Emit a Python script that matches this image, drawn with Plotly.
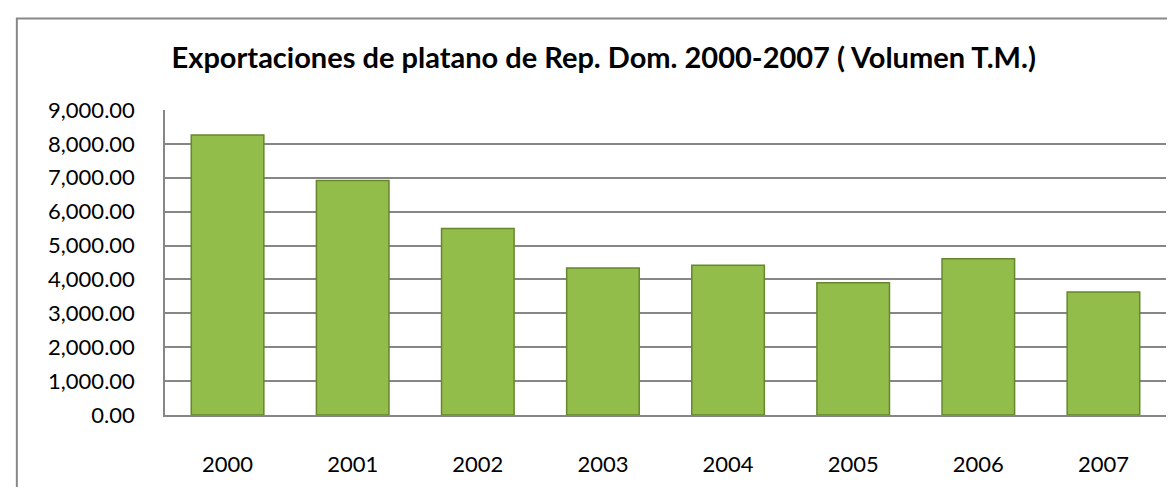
import plotly.graph_objects as go

years = ["2000", "2001", "2002", "2003", "2004", "2005", "2006", "2007"]
volumen = [8260, 6920, 5500, 4340, 4420, 3900, 4610, 3630]

fig = go.Figure(go.Bar(
    x=years, y=volumen,
    marker=dict(color="#92bd4a", line=dict(color="#66872d", width=1.5)),
    hovertemplate="%{x}: %{y:,.2f}<extra></extra>",
))

fig.update_layout(
    width=1175, height=487,
    margin=dict(l=157, r=17, t=102, b=80),
    paper_bgcolor="white", plot_bgcolor="white",
    bargap=0.42,
    showlegend=False,
    font=dict(family="Lato, Open Sans, sans-serif", color="black"),
    title=dict(
        text="<b>Exportaciones de platano de Rep. Dom. 2000-2007 ( Volumen T.M.)</b>",
        x=0.507, xanchor="center", y=0.897, yanchor="middle",
        font=dict(size=29, color="black"),
    ),
    shapes=[dict(type="rect", xref="paper", yref="paper",
                 x0=-0.148, x1=1.05, y0=-0.5, y1=1.3,
                 line=dict(color="#888888", width=2), layer="below")],
)
fig.update_yaxes(
    range=[0, 9000], dtick=1000, tickformat=",.2f",
    showgrid=True, gridcolor="#868686", gridwidth=1.5,
    showline=True, linecolor="#868686", linewidth=1.5,
    ticks="", ticklabelstandoff=24, tickfont=dict(size=22),
    zeroline=False,
)
fig.update_xaxes(
    showline=True, linecolor="#868686", linewidth=1.5,
    ticks="", ticklabelstandoff=29, tickfont=dict(size=22),
)

fig.write_html("out.html")
